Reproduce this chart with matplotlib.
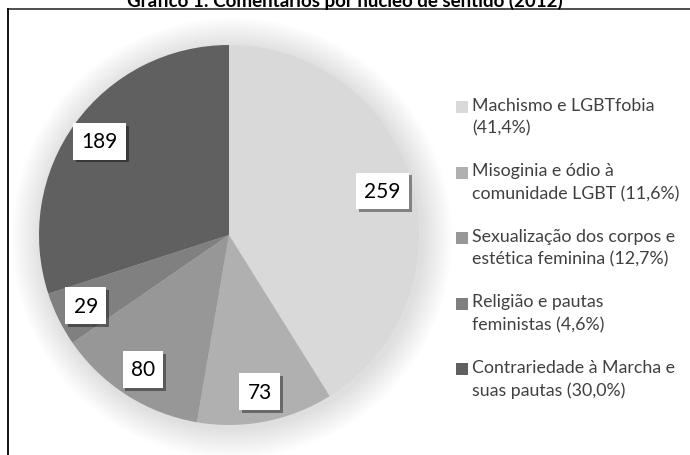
import matplotlib.pyplot as plt
import matplotlib.patheffects as pe
from matplotlib.patches import Rectangle, Circle
from matplotlib.lines import Line2D

# Data
values = [259, 73, 80, 29, 189]
legend_labels = [
    "Machismo e LGBTfobia\n(41,4%)",
    "Misoginia e ódio à\ncomunidade LGBT (11,6%)",
    "Sexualização dos corpos e\nestética feminina (12,7%)",
    "Religião e pautas\nfeministas (4,6%)",
    "Contrariedade à Marcha e\nsuas pautas (30,0%)",
]
colors = ["#d9d9d9", "#b0b0b0", "#979797", "#808080", "#606060"]
title = "Gráfico 1: Comentários por núcleo de sentido (2012)"

plt.rcParams['font.family'] = ['Lato', 'DejaVu Sans']

W, H = 690, 456
fig = plt.figure(figsize=(W / 100, H / 100), dpi=100)

# pie axes: center (229, 236), radius 190 px
r = 190
cx, cy = 229, 236
ax = fig.add_axes([(cx - r) / W, (H - cy - r) / H, 2 * r / W, 2 * r / H])

# soft shadow behind the pie
for k in range(16):
    ax.add_patch(Circle((0.015, -0.015), 1.0 + 0.01 * (16 - k), color='black',
                        alpha=0.008, lw=0, zorder=0, clip_on=False))

wedges, texts, autotexts = ax.pie(
    values, colors=colors, startangle=90, counterclock=False,
    autopct=lambda p: f"{round(p * sum(values) / 100):d}",
    pctdistance=0.84, radius=1.0,
    wedgeprops=dict(linewidth=0, clip_on=False),
    textprops=dict(fontsize=15, color='black'),
)
ax.set_xlim(-1, 1)
ax.set_ylim(-1, 1)
ax.set_aspect('equal')
ax.axis('off')

for wdg in wedges:
    wdg.set_zorder(2)
for t in autotexts:
    t.set_zorder(5)
    t.set_bbox(dict(facecolor='white', edgecolor='none', boxstyle='square,pad=0.4'))
    t.get_bbox_patch().set_path_effects([
        pe.SimplePatchShadow(offset=(2, -2), alpha=0.4, shadow_rgbFace='black'),
        pe.Normal(),
    ])

# legend drawn by hand so the marker sits on the first line
y0 = 108
dy = 65.5
for i, (lab, col) in enumerate(zip(legend_labels, colors)):
    yc = y0 + i * dy
    fig.patches.append(Rectangle((456 / W, (H - yc - 6) / H), 12 / W, 12 / H,
                                 transform=fig.transFigure, facecolor=col,
                                 edgecolor='none', figure=fig))
    fig.text(472 / W, (H - yc + 10) / H, lab, fontsize=12.8, color='#404040',
             va='top', ha='left', linespacing=1.5)

# frame (only top and left edges visible in the crop)
fig.lines.append(Line2D([8 / W, 1.0], [(H - 9.5) / H] * 2, transform=fig.transFigure,
                        color='#404040', lw=1.3))
fig.lines.append(Line2D([8 / W] * 2, [0, (H - 9.5) / H], transform=fig.transFigure,
                        color='black', lw=1.3))

fig.text(345 / W, (H - 7) / H, title, ha='center', va='baseline',
         fontsize=13.5, fontweight='bold', color='black')

fig.savefig('out.png', dpi=100, facecolor='white')
